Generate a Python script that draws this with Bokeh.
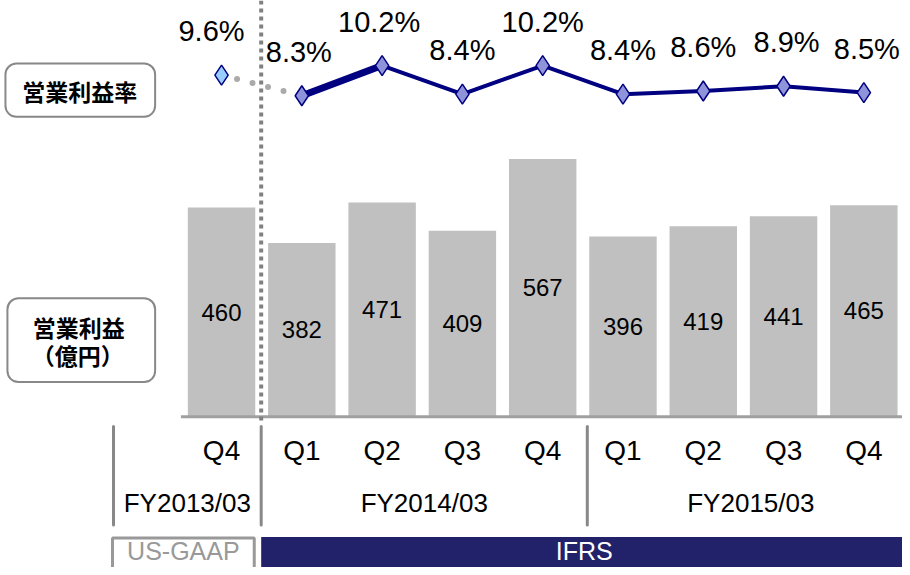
from bokeh.plotting import figure
from bokeh.models import Range1d, ColumnDataSource
from bokeh.core.properties import value
from bokeh.embed import file_html
from bokeh.resources import INLINE

# ---- data ----
quarters = ["Q4", "Q1", "Q2", "Q3", "Q4", "Q1", "Q2", "Q3", "Q4"]
profit = [460, 382, 471, 409, 567, 396, 419, 441, 465]          # 営業利益（億円）
margin = [9.6, 8.3, 10.2, 8.4, 10.2, 8.4, 8.6, 8.9, 8.5]        # 営業利益率 (%)
fiscal_years = ["FY2013/03", "FY2014/03", "FY2015/03"]
standards = ["US-GAAP", "IFRS"]
row_labels = ["営業利益率", "営業利益", "（億円）"]

FONT = value("Liberation Sans")
JFONT = value("Noto Sans CJK JP")
NAVY = "#000080"

idx = list(range(len(profit)))

p = figure(width=902, height=567,
           x_range=Range1d(-2.7531, 8.4815), y_range=Range1d(-331.89, 915.4),
           output_backend="svg", toolbar_location=None,
           x_axis_type=None, y_axis_type=None, min_border=0)
p.grid.visible = False
p.outline_line_color = None
p.background_fill_color = "white"
# layout ranges in reference-picture units (910 x 575)
p.extra_x_ranges = {"px": Range1d(0, 910)}
p.extra_y_ranges = {"py": Range1d(575, 0), "pct": Range1d(-21.40, 14.297)}

label_dx = [-10, -3, -3, 0, 0, 0, 0, 3, 3]   # small horizontal nudges of % labels

src = ColumnDataSource(dict(
    x=idx, profit=profit, half=[v / 2 for v in profit],
    plabel=[str(v) for v in profit], q=quarters, margin=margin,
    mlabel=[f"{m}%" for m in margin], dx=label_dx,
    mfill=["#99CCFF"] + ["#8F94DA"] * (len(margin) - 1),
))

# bars
p.vbar(x="x", top="profit", bottom=0, width=0.84, fill_color="#C0C0C0",
       line_color=None, source=src)
p.text(x="x", y="half", text="plabel", source=src, text_align="center",
       text_baseline="middle", text_font=FONT, text_font_size=value("24px"),
       text_color="black")

# baseline
p.segment(x0=182, x1=910, y0=0, y1=0, x_range_name="px",
          line_color="#A0A0A0", line_width=3)

# vertical dotted divider (US-GAAP | IFRS)
p.segment(x0=263, x1=263, y0=0, y1=430, x_range_name="px", y_range_name="py",
          line_color="#808080", line_width=4, line_dash="4 4")

# margin line
s_dot = ColumnDataSource(dict(x=idx[0:2], m=margin[0:2]))
s_thick = ColumnDataSource(dict(x=idx[1:3], m=margin[1:3]))
s_rest = ColumnDataSource(dict(x=idx[2:], m=margin[2:]))
p.line(x="x", y="m", source=s_dot, y_range_name="pct", line_color="#AAAAAA",
       line_width=6, line_dash="0 16", line_cap="round")
p.line(x="x", y="m", source=s_thick, y_range_name="pct", line_color=NAVY,
       line_width=7)
p.line(x="x", y="m", source=s_rest, y_range_name="pct", line_color=NAVY,
       line_width=4)
p.scatter(x="x", y="margin", source=src, y_range_name="pct", marker="diamond",
          size=20, fill_color="mfill", line_color=NAVY, line_width=1.5)
p.text(x="x", y="margin", text="mlabel", source=src, y_range_name="pct",
       x_offset="dx", y_offset=-44, text_align="center", text_baseline="middle",
       text_font=FONT, text_font_size=value("29px"), text_color="black")

# left row-label boxes
p.quad(left=[5, 7], right=[156, 156], top=[64, 302], bottom=[118, 387],
       x_range_name="px", y_range_name="py", fill_color="white",
       line_color="#888888", line_width=2, border_radius=11)
p.text(x=[80, 79, 78], y=[92, 331, 360], text=row_labels,
       x_range_name="px", y_range_name="py", text_align="center",
       text_baseline="middle", text_font=JFONT, text_font_style="bold",
       text_font_size=value("23px"), text_color="black")

# category axis: quarters
p.text(x="x", y=456, text="q", source=src, y_range_name="py",
       text_align="center", text_baseline="middle", text_font=FONT,
       text_font_size=value("28px"), text_color="black")
# separators
p.segment(x0=[114, 263, 592], x1=[114, 263, 592], y0=432, y1=532,
          x_range_name="px", y_range_name="py", line_color="#888888",
          line_width=3, line_cap="round")
# fiscal years
p.text(x=[188.5, 427.5, 757], y=510, text=fiscal_years, x_range_name="px",
       y_range_name="py", text_align="center", text_baseline="middle",
       text_font=FONT, text_font_size=value("26px"), text_color="black")

# accounting standard banner
p.quad(left=[113], right=[256], top=[545], bottom=[582], x_range_name="px",
       y_range_name="py", fill_color="white", line_color="#999999", line_width=3)
p.quad(left=[263], right=[914], top=[544], bottom=[582], x_range_name="px",
       y_range_name="py", fill_color="#22226A", line_color=None)
p.text(x=[184.5, 589], y=[558, 558], text=standards, x_range_name="px",
       y_range_name="py", text_align="center", text_baseline="middle",
       text_font=FONT, text_font_size=value("25px"),
       text_color=["#999999", "white"])

open("out.html", "w").write(file_html(p, INLINE))
